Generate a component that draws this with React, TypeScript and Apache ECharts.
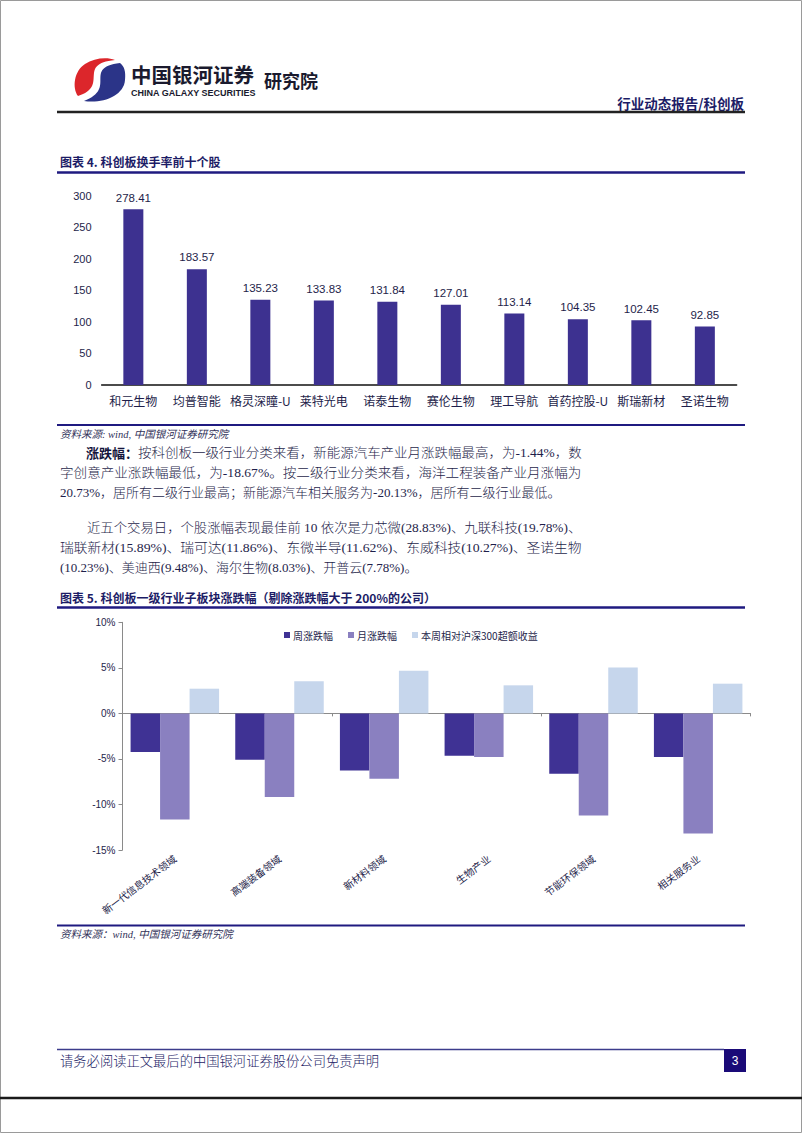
import React, { useEffect, useRef } from "react";
import * as echarts from "echarts";

// ---------- Data ----------
const turnoverStocks = ["和元生物", "均普智能", "格灵深瞳-U", "莱特光电", "诺泰生物", "赛伦生物", "理工导航", "首药控股-U", "斯瑞新材", "圣诺生物"];
const turnoverRates = [278.41, 183.57, 135.23, 133.83, 131.84, 127.01, 113.14, 104.35, 102.45, 92.85];

const sectors = ["新一代信息技术领域", "高端装备领域", "新材料领域", "生物产业", "节能环保领域", "相关服务业"];
const weeklyChange = [-4.25, -5.09, -6.26, -4.65, -6.63, -4.8];
const monthlyChange = [-11.65, -9.19, -7.18, -4.8, -11.2, -13.2];
const excessReturn = [2.71, 3.52, 4.69, 3.08, 5.05, 3.26];
const seriesNames = ["周涨跌幅", "月涨跌幅", "本周相对沪深300超额收益"];

const para1Lead = "涨跌幅：";
const para1Lines = [
  "按科创板一级行业分类来看，新能源汽车产业月涨跌幅最高，为-1.44%，数",
  "字创意产业涨跌幅最低，为-18.67%。按二级行业分类来看，海洋工程装备产业月涨幅为",
  "20.73%，居所有二级行业最高；新能源汽车相关服务为-20.13%，居所有二级行业最低。",
];
const para2Lines = [
  "近五个交易日，个股涨幅表现最佳前 10 依次是力芯微(28.83%)、九联科技(19.78%)、",
  "瑞联新材(15.89%)、瑞可达(11.86%)、东微半导(11.62%)、东威科技(10.27%)、圣诺生物",
  "(10.23%)、美迪西(9.48%)、海尔生物(8.03%)、开普云(7.78%)。",
];

// ---------- Styles ----------
const NAVY = "#1c1c66";
const TEXT = "#1e1e4a";
const CJK = "'Noto Sans CJK SC', sans-serif";
const BODY = "'Liberation Serif', 'Noto Sans CJK SC', serif";
const SANS = "'Liberation Sans', Arial, 'Noto Sans CJK SC', sans-serif";
const BODY_SIZE = 13;
const TEXT_RIGHT = 582;

const LOGO_RED = "M41 2 C2 6 36 28 4 38 C-2 30 0 13 11 6 C20 0 33 -1 41 2 Z";
const LOGO_BLUE = "M46 5 C8 10 44 30 10 43 C28 46 50 38 51 22 C52 13 50 8 46 5 Z";

let registered = false;
function registerShapes() {
  if (registered) return;
  echarts.graphic.registerShape("logoRed", echarts.graphic.extendPath(LOGO_RED, {}) as any);
  echarts.graphic.registerShape("logoBlue", echarts.graphic.extendPath(LOGO_BLUE, {}) as any);
  registered = true;
}

let measureCtx: CanvasRenderingContext2D | null = null;
function measure(text: string, size: number, family: string, weight: any = "normal") {
  if (!measureCtx) measureCtx = document.createElement("canvas").getContext("2d");
  if (!measureCtx) return text.length * size;
  measureCtx.font = `${weight} ${size}px ${family}`;
  return measureCtx.measureText(text).width;
}

function txt(text: string, x: number, y: number, o: any = {}) {
  const el: any = {
    type: "text",
    x,
    y,
    silent: true,
    style: {
      text,
      fill: o.fill || TEXT,
      fontSize: o.fontSize || BODY_SIZE,
      fontFamily: o.fontFamily || BODY,
      fontWeight: o.fontWeight || "normal",
      fontStyle: o.fontStyle || "normal",
      align: o.align || "left",
      verticalAlign: "middle",
    },
  };
  if (o.scaleX) {
    el.scaleX = o.scaleX;
  }
  return el;
}
// a justified body line: stretched so that it ends at the text block's right edge
function justified(text: string, x: number, y: number) {
  const w = measure(text, BODY_SIZE, BODY, 300);
  const s = w > 0 ? (TEXT_RIGHT - x) / w : 1;
  return txt(text, x, y, { fontWeight: 300, scaleX: s });
}
function hline(x1: number, x2: number, y: number, stroke: string, lineWidth: number) {
  return { type: "line", silent: true, shape: { x1, y1: y, x2, y2: y }, style: { stroke, lineWidth } };
}

export default function App() {
  const ref = useRef<HTMLDivElement>(null);

  useEffect(() => {
    if (!ref.current) return;
    registerShapes();
    const chart = echarts.init(ref.current, undefined, { renderer: "svg" });

    const leadW = measure(para1Lead, BODY_SIZE, CJK, "bold");

    const graphic: any[] = [
      // page border
      { type: "rect", silent: true, shape: { x: 0.5, y: 0.5, width: 801, height: 1132 }, style: { fill: "none", stroke: "#9a9a9a", lineWidth: 1 } },
      // logo
      { type: "logoRed", x: 74, y: 58, scaleX: 1, scaleY: 1, style: { fill: "#dc262b" } },
      { type: "logoBlue", x: 74, y: 58, scaleX: 1, scaleY: 1, style: { fill: "#2b3488" } },
      txt("中国银河证券", 131, 73.5, { fontSize: 20.5, fontWeight: "bold", fontFamily: CJK, fill: "#1a1a2e" }),
      txt("CHINA GALAXY SECURITIES", 131, 92.5, { fontSize: 9, fontWeight: "bold", fontFamily: SANS, fill: "#1a1a2e" }),
      txt("研究院", 264, 80, { fontSize: 18, fontWeight: "bold", fontFamily: CJK, fill: "#1a1a2e" }),
      txt("行业动态报告/科创板", 744, 103, { fontSize: 13.5, fontWeight: "bold", fontFamily: CJK, fill: NAVY, align: "right" }),
      hline(57, 745, 112, "#222222", 2.5),
      // figure 4 title
      txt("图表 4. 科创板换手率前十个股", 60, 161, { fontSize: 12, fontWeight: "bold", fontFamily: CJK, fill: NAVY }),
      hline(57, 745, 172.5, "#1f1a80", 2.5),
      hline(57, 745, 425, "#1f1a80", 2),
      txt("资料来源: wind, 中国银河证券研究院", 60, 434, { fontSize: 10.5, fontStyle: "italic", fontFamily: BODY, fill: "#33335a" }),
      // paragraph 1
      txt(para1Lead, 86, 452.5, { fontWeight: "bold", fontFamily: CJK, fill: "#14143c" }),
      justified(para1Lines[0], 86 + leadW, 452.5),
      justified(para1Lines[1], 60, 472.5),
      txt(para1Lines[2], 60, 492.5, { fontWeight: 300 }),
      // paragraph 2
      justified(para2Lines[0], 87, 527.5),
      justified(para2Lines[1], 60, 547.5),
      txt(para2Lines[2], 60, 567, { fontWeight: 300 }),
      // figure 5 title
      txt("图表 5. 科创板一级行业子板块涨跌幅（剔除涨跌幅大于 200%的公司）", 60, 597, { fontSize: 12, fontWeight: "bold", fontFamily: CJK, fill: NAVY }),
      hline(57, 745, 607.5, "#1f1a80", 2.5),
      hline(57, 745, 925.5, "#1f1a80", 2),
      txt("资料来源：wind, 中国银河证券研究院", 60, 934, { fontSize: 10.5, fontStyle: "italic", fontFamily: BODY, fill: "#33335a" }),
      // footer
      hline(57, 724, 1049.5, "#3c3c8c", 1.5),
      { type: "rect", silent: true, shape: { x: 724, y: 1049, width: 22, height: 23 }, style: { fill: "#1a0a78" } },
      txt("3", 735, 1060.5, { fontSize: 12, fontFamily: SANS, fill: "#ffffff", align: "center" }),
      txt("请务必阅读正文最后的中国银河证券股份公司免责声明", 60, 1061, { fontSize: 13.3, fontFamily: BODY, fill: NAVY, fontWeight: 300 }),
      hline(0, 802, 1098, "#1a1a1a", 2.5),
    ];

    chart.setOption({
      animation: false,
      backgroundColor: "#ffffff",
      textStyle: { fontFamily: SANS },
      grid: [
        { left: 101.6, top: 195.7, width: 635, height: 189.3 },
        { left: 122.5, top: 622.3, width: 628, height: 227.7 },
      ],
      legend: {
        data: seriesNames,
        left: 279,
        top: 625,
        icon: "rect",
        itemWidth: 6,
        itemHeight: 6,
        itemGap: 15,
        textStyle: { fontSize: 10, color: TEXT, fontFamily: CJK, padding: [0, 0, 0, -2] },
      },
      xAxis: [
        {
          type: "category",
          gridIndex: 0,
          data: turnoverStocks,
          axisLine: { lineStyle: { color: "#111111", width: 1.5 } },
          axisTick: { show: false },
          axisLabel: { color: TEXT, fontSize: 12, fontFamily: CJK, margin: 9, interval: 0 },
        },
        {
          type: "category",
          gridIndex: 1,
          data: sectors,
          position: "bottom",
          axisLine: { onZero: true, lineStyle: { color: "#8a8a8a", width: 1 } },
          axisTick: { show: true, length: 3, lineStyle: { color: "#8a8a8a" } },
          axisLabel: { show: false },
        },
        {
          type: "category",
          gridIndex: 1,
          data: sectors,
          position: "bottom",
          axisLine: { show: false, onZero: false },
          axisTick: { show: false },
          axisLabel: { color: TEXT, fontSize: 10, fontFamily: CJK, rotate: 37, margin: 7, interval: 0 },
        },
      ],
      yAxis: [
        {
          type: "value",
          gridIndex: 0,
          min: 0,
          max: 300,
          interval: 50,
          axisLine: { show: false },
          axisTick: { show: false },
          splitLine: { show: false },
          axisLabel: { color: TEXT, fontSize: 11, fontFamily: SANS, margin: 10 },
        },
        {
          type: "value",
          gridIndex: 1,
          min: -15,
          max: 10,
          interval: 5,
          axisLine: { show: true, lineStyle: { color: "#8a8a8a", width: 1 } },
          axisTick: { show: true, length: 4, lineStyle: { color: "#8a8a8a" } },
          splitLine: { show: false },
          axisLabel: { color: TEXT, fontSize: 10, fontFamily: SANS, margin: 7, formatter: (v: number) => v + "%" },
        },
      ],
      series: [
        {
          name: "换手率",
          type: "bar",
          xAxisIndex: 0,
          yAxisIndex: 0,
          data: turnoverRates,
          barWidth: 20,
          itemStyle: { color: "#3d3190" },
          label: {
            show: true,
            position: "top",
            distance: 6,
            color: TEXT,
            fontSize: 11.5,
            fontFamily: SANS,
            formatter: (p: any) => Number(p.value).toFixed(2),
          },
        },
        {
          name: seriesNames[0],
          type: "bar",
          xAxisIndex: 1,
          yAxisIndex: 1,
          data: weeklyChange,
          barWidth: 29.5,
          barGap: "0%",
          itemStyle: { color: "#3f3294" },
        },
        {
          name: seriesNames[1],
          type: "bar",
          xAxisIndex: 1,
          yAxisIndex: 1,
          data: monthlyChange,
          barWidth: 29.5,
          barGap: "0%",
          itemStyle: { color: "#8a80c0" },
        },
        {
          name: seriesNames[2],
          type: "bar",
          xAxisIndex: 1,
          yAxisIndex: 1,
          data: excessReturn,
          barWidth: 29.5,
          barGap: "0%",
          itemStyle: { color: "#c6d6ec" },
        },
      ],
      graphic,
    });

    return () => chart.dispose();
  }, []);

  return (
    <div
      ref={ref}
      style={{ position: "absolute", left: 0, top: 0, width: 802, height: 1133, background: "#fff" }}
    />
  );
}
